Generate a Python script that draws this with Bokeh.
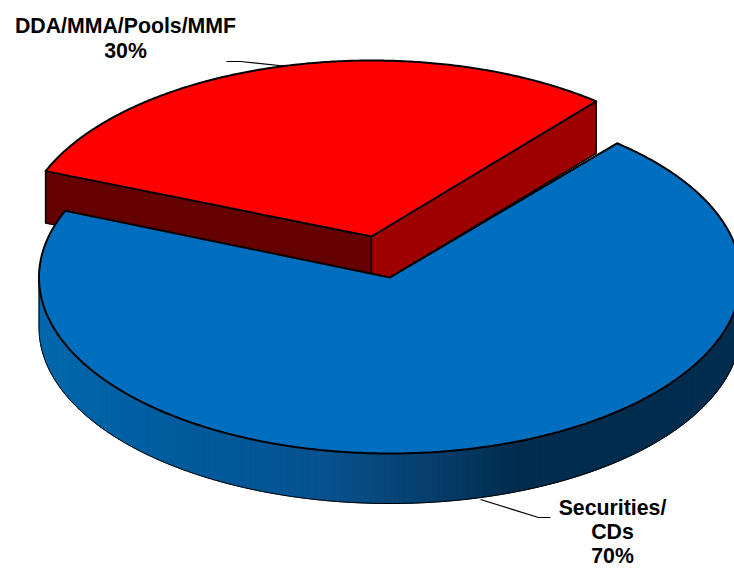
import numpy as np
from bokeh.plotting import figure
from bokeh.models import Range1d
from bokeh.core.properties import value
from bokeh.embed import file_html
from bokeh.resources import INLINE

categories = ["DDA/MMA/Pools/MMF", "Securities/CDs"]
shares = [30, 70]
label_lines = [["DDA/MMA/Pools/MMF", "30%"], ["Securities/", "CDs", "70%"]]

RX, RY = 351, 176
START = np.radians(50.2)
BLUE_START = np.radians(49.7)
SWEEPS = [2 * np.pi * s / sum(shares) for s in shares]
RED_C = (371, 236)
BLUE_C = (389.5, 277)
RED_DEPTH, BLUE_DEPTH = 52, 50
FONT = value("Liberation Sans")


def arc(c, a0, a1, n=240):
    t = np.linspace(a0, a1, n)
    return c[0] + RX * np.cos(t), c[1] - RY * np.sin(t)


p = figure(width=734, height=568, output_backend="svg", toolbar_location=None,
           x_range=Range1d(0, 734), y_range=Range1d(568, 0), min_border=0,
           outline_line_color=None, background_fill_color="white", border_fill_color="white")
p.xaxis.visible = False
p.yaxis.visible = False
p.grid.visible = False

# leader lines
p.line([226, 240, 288], [61, 61, 66], line_color="black", line_width=1.2)
p.line([480, 538, 550], [499, 517, 517], line_color="black", line_width=1.2)

# red slice
a0, a1 = START, START + SWEEPS[0]
ax, ay = arc(RED_C, a0, a1)
rx0, ry0 = ax[0], ay[0]
lx0, ly0 = ax[-1], ay[-1]
p.patch([lx0, RED_C[0], RED_C[0], lx0], [ly0, RED_C[1], RED_C[1] + RED_DEPTH, ly0 + RED_DEPTH],
        fill_color="#640000", line_color="black", line_width=1.5)
p.patch([rx0, RED_C[0], RED_C[0], rx0], [ry0, RED_C[1], RED_C[1] + RED_DEPTH, ry0 + RED_DEPTH],
        fill_color="#9E0000", line_color="black", line_width=1.5)
p.patch(list(ax) + [RED_C[0]], list(ay) + [RED_C[1]], fill_color="#FF0000",
        line_color="black", line_width=2, line_join="round")

# blue rim, shaded in vertical strips
stop_x = [39, 200, 330, 430, 520, 740]
stop_r = [0, 0, 6, 6, 0, 0]
stop_g = [104, 90, 82, 62, 44, 44]
stop_b = [172, 155, 142, 108, 78, 78]
bx0, bx1 = BLUE_C[0] - RX, BLUE_C[0] + RX
edges = np.linspace(bx0, bx1, 141)
xs, ys, cols = [], [], []
for e0, e1 in zip(edges[:-1], edges[1:]):
    xx = np.linspace(e0, e1, 6)
    top = BLUE_C[1] + RY * np.sqrt(np.clip(1 - ((xx - BLUE_C[0]) / RX) ** 2, 0, 1))
    xs.append(list(xx) + list(xx[::-1]))
    ys.append(list(top) + list((top + BLUE_DEPTH)[::-1]))
    m = (e0 + e1) / 2
    cols.append("#%02x%02x%02x" % (int(np.interp(m, stop_x, stop_r)),
                                   int(np.interp(m, stop_x, stop_g)),
                                   int(np.interp(m, stop_x, stop_b))))
p.patches(xs, ys, fill_color=cols, line_color=cols, line_width=1)
rimx, rimy = arc(BLUE_C, np.pi, 2 * np.pi)
p.line(list(rimx), list(rimy + BLUE_DEPTH), line_color="black", line_width=1)
p.line([bx0, bx0], [BLUE_C[1], BLUE_C[1] + BLUE_DEPTH], line_color="black", line_width=1)

# blue slice
bxs, bys = arc(BLUE_C, BLUE_START + SWEEPS[0], BLUE_START + SWEEPS[0] + SWEEPS[1], 400)
p.patch(list(bxs) + [BLUE_C[0]], list(bys) + [BLUE_C[1]], fill_color="#006EBF",
        line_color="black", line_width=2, line_join="round")

# labels
spots = [(125, [25, 50]), (612, [507, 531, 555])]
for lines, (cx, ylist) in zip(label_lines, spots):
    p.text([cx] * len(lines), ylist, text=lines, text_font=FONT, text_font_size="21.3px",
           text_font_style="bold", text_color="black", text_align="center",
           text_baseline="middle")

open("out.html", "w").write(file_html(p, INLINE))
